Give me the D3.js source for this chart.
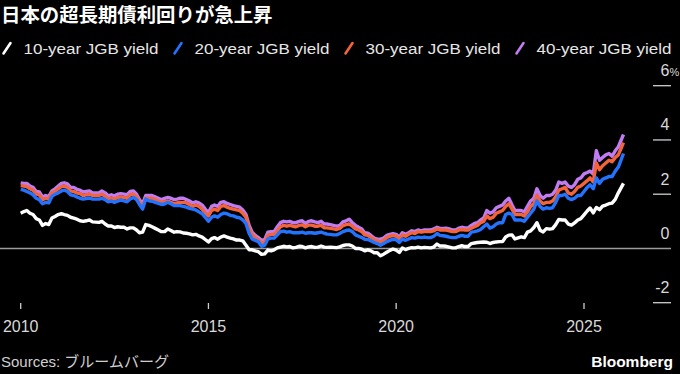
<!DOCTYPE html>
<html>
<head>
<meta charset="utf-8">
<script src="https://cdn.jsdelivr.net/npm/d3@7"></script>
<style>
  html, body { margin: 0; padding: 0; background: #000; }
  svg { display: block; }
  .tick-label { font-family: "Liberation Sans", Arial, sans-serif; font-size: 16px; fill: #d9d9d9; }
</style>
</head>
<body>
<svg id="chart" width="680" height="374"></svg>
<script>
// monthly readings, Jan 2010 .. Dec 2025, then the last print (Jan 20 2026)
const lastDate = new Date(2026, 0, 20);

const y10 = [
  1.30, 1.36, 1.40, 1.30, 1.25, 1.10, 1.05, 0.85, 0.92, 0.88, 1.12, 1.18,
  1.25, 1.28, 1.25, 1.22, 1.15, 1.12, 1.08, 1.02, 1.00, 1.02, 1.05, 0.98,
  0.97, 0.96, 1.00, 0.90, 0.83, 0.83, 0.77, 0.80, 0.78, 0.78, 0.72, 0.76,
  0.76, 0.68, 0.58, 0.60, 0.88, 0.85, 0.80, 0.74, 0.68, 0.62, 0.62, 0.72,
  0.66, 0.60, 0.62, 0.61, 0.57, 0.56, 0.54, 0.50, 0.52, 0.46, 0.42, 0.33,
  0.24, 0.36, 0.40, 0.34, 0.42, 0.46, 0.42, 0.38, 0.35, 0.31, 0.31, 0.28,
  0.12, -0.05, -0.05, -0.09, -0.12, -0.22, -0.20, -0.06, -0.09, -0.05, 0.02, 0.05,
  0.08, 0.06, 0.07, 0.02, 0.04, 0.08, 0.07, 0.02, 0.06, 0.07, 0.04, 0.05,
  0.09, 0.05, 0.04, 0.05, 0.04, 0.03, 0.06, 0.11, 0.13, 0.13, 0.09, 0.00,
  0.00, -0.03, -0.09, -0.05, -0.09, -0.16, -0.16, -0.27, -0.21, -0.14, -0.07, -0.02,
  -0.06, -0.15, 0.02, -0.04, 0.00, 0.03, 0.02, 0.05, 0.02, 0.04, 0.03, 0.02,
  0.05, 0.16, 0.09, 0.09, 0.08, 0.05, 0.02, 0.02, 0.07, 0.10, 0.07, 0.07,
  0.18, 0.20, 0.22, 0.23, 0.24, 0.23, 0.18, 0.22, 0.24, 0.25, 0.25, 0.42,
  0.49, 0.50, 0.35, 0.39, 0.43, 0.40, 0.60, 0.65, 0.77, 0.95, 0.67, 0.61,
  0.73, 0.71, 0.73, 0.88, 1.07, 1.05, 1.05, 0.90, 0.86, 0.94, 1.05, 1.10,
  1.24, 1.38, 1.49, 1.31, 1.51, 1.43, 1.56, 1.60, 1.65, 1.67, 1.81, 2.05,
  2.40
];

const y20 = [
  2.18, 2.15, 2.10, 2.05, 1.98, 1.85, 1.80, 1.65, 1.70, 1.68, 1.92, 2.00,
  2.05, 2.12, 2.15, 2.10, 1.98, 1.95, 1.90, 1.85, 1.82, 1.84, 1.86, 1.82,
  1.82, 1.82, 1.85, 1.80, 1.72, 1.75, 1.70, 1.75, 1.78, 1.75, 1.72, 1.82,
  1.88, 1.80, 1.62, 1.45, 1.82, 1.76, 1.74, 1.70, 1.66, 1.62, 1.64, 1.70,
  1.65, 1.58, 1.58, 1.58, 1.55, 1.52, 1.48, 1.45, 1.42, 1.35, 1.28, 1.15,
  1.00, 1.15, 1.20, 1.15, 1.25, 1.30, 1.28, 1.22, 1.20, 1.15, 1.13, 1.05,
  0.92, 0.55, 0.35, 0.30, 0.25, 0.08, 0.12, 0.35, 0.38, 0.38, 0.50, 0.62,
  0.64, 0.60, 0.62, 0.58, 0.58, 0.58, 0.60, 0.56, 0.58, 0.58, 0.56, 0.58,
  0.60, 0.56, 0.53, 0.52, 0.50, 0.50, 0.55, 0.62, 0.66, 0.68, 0.62, 0.50,
  0.45, 0.40, 0.34, 0.33, 0.28, 0.22, 0.18, 0.12, 0.18, 0.25, 0.30, 0.34,
  0.32, 0.22, 0.35, 0.30, 0.35, 0.40, 0.38, 0.42, 0.40, 0.42, 0.40, 0.40,
  0.45, 0.55, 0.48, 0.47, 0.45, 0.42, 0.40, 0.40, 0.45, 0.48, 0.45, 0.45,
  0.60, 0.62, 0.65, 0.70, 0.80, 0.90, 0.75, 0.80, 0.90, 0.95, 0.95, 1.25,
  1.30, 1.25, 1.05, 1.05, 1.05, 1.00, 1.15, 1.30, 1.45, 1.75, 1.55, 1.45,
  1.50, 1.48, 1.50, 1.70, 1.95, 1.95, 2.00, 1.85, 1.80, 1.85, 1.95, 1.95,
  2.10, 2.25, 2.35, 2.20, 2.60, 2.40, 2.55, 2.60, 2.65, 2.65, 2.85, 3.00,
  3.50
];

const y30 = [
  2.32, 2.30, 2.28, 2.20, 2.15, 2.00, 1.98, 1.80, 1.85, 1.82, 2.05, 2.10,
  2.20, 2.28, 2.30, 2.25, 2.12, 2.10, 2.05, 2.02, 1.95, 1.98, 2.00, 1.95,
  1.95, 1.95, 2.00, 1.92, 1.82, 1.86, 1.82, 1.88, 1.90, 1.88, 1.85, 1.98,
  2.00, 1.90, 1.70, 1.55, 1.85, 1.85, 1.85, 1.80, 1.75, 1.70, 1.72, 1.75,
  1.70, 1.65, 1.68, 1.70, 1.70, 1.68, 1.62, 1.55, 1.60, 1.55, 1.45, 1.30,
  1.20, 1.40, 1.45, 1.40, 1.55, 1.58, 1.52, 1.48, 1.45, 1.42, 1.40, 1.30,
  1.15, 0.75, 0.50, 0.40, 0.32, 0.20, 0.22, 0.48, 0.52, 0.52, 0.65, 0.80,
  0.85, 0.82, 0.85, 0.82, 0.80, 0.85, 0.87, 0.80, 0.86, 0.86, 0.82, 0.82,
  0.85, 0.76, 0.76, 0.74, 0.72, 0.70, 0.74, 0.84, 0.88, 0.90, 0.82, 0.72,
  0.68, 0.62, 0.50, 0.48, 0.40, 0.32, 0.28, 0.24, 0.30, 0.40, 0.45, 0.48,
  0.45, 0.35, 0.50, 0.45, 0.52, 0.58, 0.55, 0.62, 0.60, 0.62, 0.62, 0.62,
  0.65, 0.72, 0.68, 0.68, 0.68, 0.65, 0.62, 0.62, 0.68, 0.70, 0.68, 0.68,
  0.75, 0.80, 0.85, 0.95, 1.00, 1.20, 1.10, 1.15, 1.30, 1.35, 1.40, 1.55,
  1.65, 1.45, 1.25, 1.25, 1.25, 1.20, 1.35, 1.55, 1.65, 1.95, 1.75, 1.65,
  1.70, 1.70, 1.75, 1.90, 2.15, 2.20, 2.25, 2.05, 2.00, 2.10, 2.25, 2.30,
  2.40, 2.50, 2.60, 2.45, 3.15, 2.90, 3.05, 3.15, 3.25, 3.20, 3.35, 3.45,
  3.90
];

const y40 = [
  2.42, 2.40, 2.40, 2.30, 2.25, 2.10, 2.08, 1.90, 1.95, 1.92, 2.12, 2.20,
  2.30, 2.40, 2.42, 2.38, 2.25, 2.25, 2.18, 2.15, 2.08, 2.10, 2.12, 2.05,
  2.05, 2.05, 2.12, 2.05, 1.94, 1.98, 1.94, 2.00, 2.02, 2.00, 1.98, 2.10,
  2.12, 2.00, 1.80, 1.65, 1.95, 1.95, 1.95, 1.90, 1.85, 1.80, 1.85, 1.88,
  1.85, 1.80, 1.82, 1.85, 1.85, 1.80, 1.75, 1.68, 1.72, 1.68, 1.60, 1.45,
  1.32, 1.55, 1.60, 1.55, 1.70, 1.72, 1.66, 1.62, 1.58, 1.55, 1.52, 1.42,
  1.25, 0.85, 0.60, 0.48, 0.40, 0.30, 0.32, 0.60, 0.62, 0.62, 0.80, 0.95,
  1.00, 0.98, 1.00, 0.95, 0.95, 1.00, 1.02, 0.92, 1.00, 1.02, 0.98, 0.95,
  1.00, 0.90, 0.90, 0.88, 0.85, 0.82, 0.85, 0.98, 1.02, 1.08, 0.95, 0.85,
  0.78, 0.72, 0.58, 0.56, 0.48, 0.38, 0.34, 0.34, 0.38, 0.48, 0.52, 0.55,
  0.52, 0.42, 0.58, 0.52, 0.58, 0.65, 0.62, 0.68, 0.65, 0.68, 0.68, 0.68,
  0.72, 0.78, 0.74, 0.74, 0.75, 0.72, 0.68, 0.68, 0.75, 0.78, 0.76, 0.76,
  0.85, 0.92, 0.95, 1.05, 1.12, 1.40, 1.30, 1.35, 1.50, 1.55, 1.60, 1.75,
  1.85, 1.60, 1.40, 1.40, 1.40, 1.35, 1.55, 1.75, 1.85, 2.20, 1.95, 1.85,
  1.95, 1.95, 2.00, 2.15, 2.45, 2.40, 2.45, 2.30, 2.25, 2.35, 2.55, 2.60,
  2.75, 2.80, 2.85, 2.75, 3.60, 3.25, 3.35, 3.45, 3.50, 3.40, 3.60, 3.75,
  4.20
];

const seriesNames = ['10-year JGB yield', '20-year JGB yield', '30-year JGB yield', '40-year JGB yield'];
const seriesColors = ['#ffffff', '#2373ff', '#f4643a', '#c07cf0'];
const yTicks = [-2, 0, 2, 4, 6];
const xTicks = [2010, 2015, 2020, 2025];

const W = 680, H = 374;
const svg = d3.select('#chart');

svg.append('rect').attr('width', W).attr('height', H).attr('fill', '#000');

// dates: first of each month, plus the final print
const dates = d3.timeMonth.range(new Date(2010, 0, 1), new Date(2026, 0, 1)).concat([lastDate]);

const x = d3.scaleTime()
    .domain([new Date(2010, 0, 1), new Date(2025, 0, 1)])
    .range([20.7, 584]);

const y = d3.scaleLinear()
    .domain([-2, 6])
    .range([302.7, 85.7]);

// title
svg.append('text')
    .attr('x', 1).attr('y', 22)
    .attr('fill', '#fff')
    .style('font-family', '"Noto Sans CJK JP", sans-serif')
    .style('font-weight', 'bold')
    .style('font-size', '19.4px')
    .text('日本の超長期債利回りが急上昇');

// legend
const legend = svg.append('g').attr('class', 'legend');
seriesNames.forEach((name, i) => {
    const tx = 23.5 + i * 171;
    legend.append('line')
        .attr('x1', tx - 20).attr('y1', 53.5)
        .attr('x2', tx - 13).attr('y2', 43)
        .attr('stroke', seriesColors[i])
        .attr('stroke-width', 2.6)
        .attr('stroke-linecap', 'round');
    legend.append('text')
        .attr('x', tx).attr('y', 53.5)
        .attr('fill', '#e6e6e6')
        .attr('textLength', 135)
        .attr('lengthAdjust', 'spacingAndGlyphs')
        .style('font-family', '"Liberation Sans", Arial, sans-serif')
        .style('font-size', '15.5px')
        .text(name);
});

// right value axis: short tick marks with the labels sitting above them
const yAxis = svg.append('g').attr('class', 'y axis');
yTicks.forEach(t => {
    if (t !== 0) {
        yAxis.append('line')
            .attr('x1', 653).attr('x2', 671)
            .attr('y1', y(t)).attr('y2', y(t))
            .attr('stroke', '#cfcfcf')
            .attr('stroke-width', 1.3);
    }
    yAxis.append('text')
        .attr('class', 'tick-label')
        .attr('x', 669.5).attr('y', y(t) - 9.5)
        .attr('text-anchor', 'end')
        .text(t);
    if (t === 6) {
        yAxis.append('text')
            .attr('class', 'tick-label')
            .attr('x', 669.5).attr('y', y(t) - 9.5)
            .style('font-size', '11px')
            .text('%');
    }
});

// zero line
svg.append('line')
    .attr('x1', 0).attr('x2', 671)
    .attr('y1', y(0)).attr('y2', y(0))
    .attr('stroke', '#9c9c9c')
    .attr('stroke-width', 1.5);

// time axis
const xAxis = svg.append('g').attr('class', 'x axis');
xTicks.forEach(yr => {
    const px = x(new Date(yr, 0, 1));
    xAxis.append('line')
        .attr('x1', px).attr('x2', px)
        .attr('y1', 303).attr('y2', 309)
        .attr('stroke', '#cfcfcf')
        .attr('stroke-width', 1.3);
    xAxis.append('text')
        .attr('class', 'tick-label')
        .attr('x', px).attr('y', 331.5)
        .attr('text-anchor', 'middle')
        .text(yr);
});

// the lines, longest maturity underneath
const line = d3.line()
    .x((d, i) => x(dates[i]))
    .y(d => y(d));

const allSeries = [y10, y20, y30, y40];
for (let i = allSeries.length - 1; i >= 0; i--) {
    svg.append('path')
        .datum(allSeries[i])
        .attr('fill', 'none')
        .attr('stroke', seriesColors[i])
        .attr('stroke-width', 3.4)
        .attr('stroke-linejoin', 'round')
        .attr('d', line);
}

// footer
svg.append('text')
    .attr('x', 1).attr('y', 367)
    .attr('fill', '#cfcfcf')
    .style('font-family', '"Liberation Sans", "Noto Sans CJK JP", sans-serif')
    .style('font-size', '15px')
    .text('Sources: ブルームバーグ');

svg.append('text')
    .attr('x', 673).attr('y', 367)
    .attr('text-anchor', 'end')
    .attr('fill', '#fff')
    .style('font-family', '"Liberation Sans", Arial, sans-serif')
    .style('font-weight', 'bold')
    .style('font-size', '15.5px')
    .text('Bloomberg');
</script>
</body>
</html>
